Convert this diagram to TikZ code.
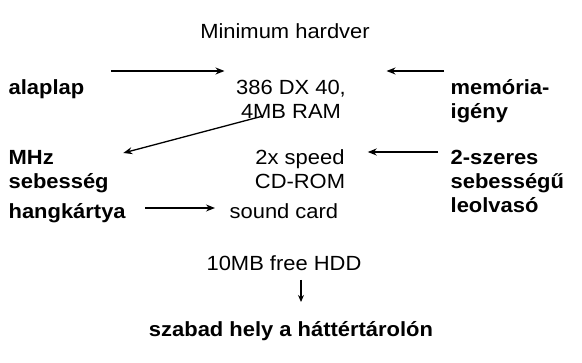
\documentclass[tikz,border=0pt]{standalone}
\usepackage{fontspec}
\setmainfont[FakeStretch=1.07]{Liberation Sans}
\usetikzlibrary{arrows.meta}

\tikzset{
  every node/.style={inner sep=0pt,font=\fontsize{20.5}{24}\selectfont},
  term/.style={font=\fontsize{20.5}{24}\selectfont\bfseries},
}

\begin{document}
\begin{tikzpicture}[x=1pt,y=1pt,line width=1.3pt,>={Stealth[length=9pt,width=7pt]}]
\useasboundingbox (0,0) rectangle (582,363);

\node[anchor=base](title) at (285,324) {Minimum hardver};

\node[term,anchor=base west](alaplap) at (8,268) {alaplap};
\node[anchor=base,align=center](cpu) at (291,244) {386 DX 40,\\4MB RAM};
\node[term,anchor=base west,align=left](memoria) at (450,244) {memória-\\igény};

\node[term,anchor=base west,align=left](mhz) at (8,174) {MHz\\sebesség};
\node[anchor=base,align=center](cdrom) at (300,174) {2x speed\\CD-ROM};
\node[term,anchor=base west,align=left](szeres) at (450,150) {2-szeres\\sebességű\\leolvasó};

\node[term,anchor=base west](hangkartya) at (8,144) {hangkártya};
\node[anchor=base west](soundcard) at (229,144) {sound card};

\node[anchor=base](hdd) at (284,92) {10MB free HDD};
\node[term,anchor=base](szabad) at (291,26) {szabad hely a háttértárolón};

\draw[->,draw=black] ([xshift=26pt,yshift=24pt]alaplap.base east) to ([xshift=-11pt,yshift=48pt]cpu.base west);
\draw[->,draw=black] ([xshift=-6pt,yshift=48pt]memoria.base west) to ([xshift=40pt,yshift=48pt]cpu.base east);

\draw[->,draw=black] ([xshift=-28pt,yshift=3pt]cpu.base) to ([xshift=14pt,yshift=36pt]mhz.base east);
\draw[->,draw=black] ([xshift=-12pt,yshift=61pt]szeres.base west) to ([xshift=22pt,yshift=37pt]cdrom.base east);

\draw[->,draw=black] ([xshift=19pt,yshift=11pt]hangkartya.base east) to ([xshift=-14pt,yshift=11pt]soundcard.base west);

\draw[->,draw=black,line width=1.1pt,>={Stealth[length=7pt,width=6pt]}] ([xshift=17pt,yshift=-9pt]hdd.base) to ([xshift=10pt,yshift=35pt]szabad.base);

\end{tikzpicture}
\end{document}
